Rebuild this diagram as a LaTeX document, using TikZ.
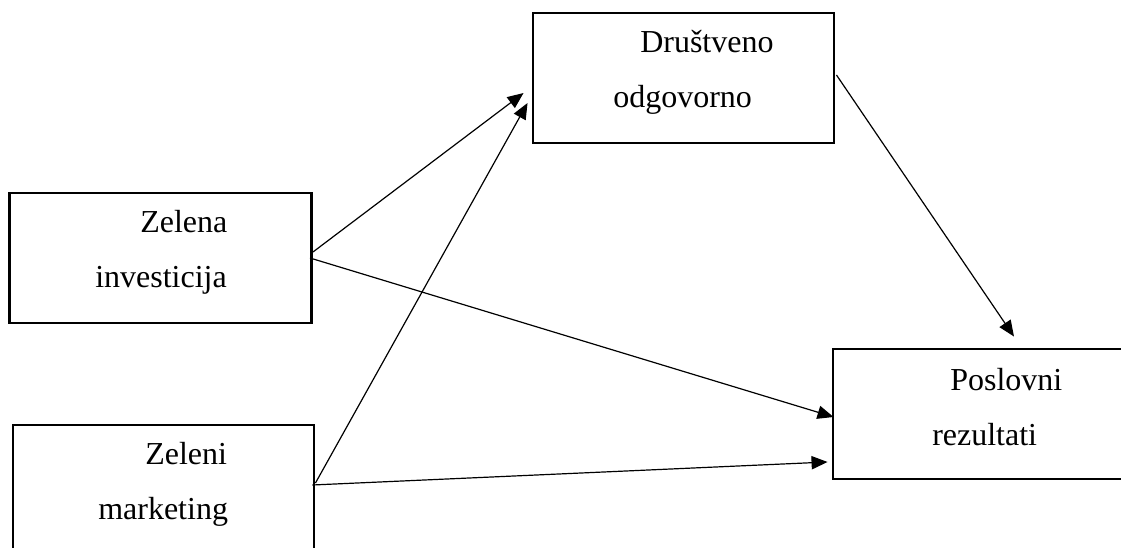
\documentclass[tikz,border=0pt]{standalone}
\usepackage{fontspec}
\setmainfont{Liberation Serif}
\usetikzlibrary{arrows.meta,calc}
\begin{document}
\begin{tikzpicture}[x=0.75pt,y=-0.75pt,
  box/.style={draw=black,line width=2.2pt,fill=none,inner sep=0pt},
  lbl/.style={anchor=base west,inner sep=0pt,font=\fontsize{24}{28}\selectfont},
  conn/.style={line width=0.9pt,-{Triangle[length=12pt,width=10pt]}}]
\useasboundingbox (0,0) rectangle (1121,548);
\clip (0,0) rectangle (1121,548);
% boxes
\node[box,minimum width=226.5pt,minimum height=97.5pt] (zi) at (160.5,258) {};
\node[box,minimum width=225.75pt,minimum height=120pt] (zm) at (163.5,505) {};
\node[box,minimum width=225.75pt,minimum height=97.5pt] (dr) at (683.5,78) {};
\node[box,minimum width=240pt,minimum height=97.5pt] (pr) at (993,414) {};
% labels
\node[lbl] (t1) at (140,233) {Zelena};
\node[lbl] (t2) at (95,288) {investicija};
\node[lbl] (t3) at (145,465) {Zeleni};
\node[lbl] (t4) at (98,520) {marketing};
\node[lbl] (t5) at (640,53) {Društveno};
\node[lbl] (t6) at (613,108) {odgovorno};
\node[lbl] (t7) at (950,391) {Poslovni};
\node[lbl] (t8) at (932,446) {rezultati};
% connector endpoints
\coordinate (a1) at ($(zi.east)+(0,-6)$);
\coordinate (a2) at ($(zi.east)+(-3,0)$);
\coordinate (b1) at ($(zm.east)+(0,-22)$);
\coordinate (b2) at ($(zm.east)+(-3,-20)$);
\coordinate (c1) at ($(dr.east)+(1,-3)$);
\coordinate (d1) at ($(dr.west)+(-8,15)$);
\coordinate (d2) at ($(dr.west)+(-4,25)$);
\coordinate (e1) at ($(pr.west)+(2,3)$);
\coordinate (e2) at ($(pr.west)+(-4,48)$);
\coordinate (e3) at ($(pr.north)+(21,-11)$);
\draw[conn] (a1) -- (d1);
\draw[conn] (a2) -- (e1);
\draw[conn] (b1) -- (d2);
\draw[conn] (b2) -- (e2);
\draw[conn] (c1) -- (e3);
\end{tikzpicture}
\end{document}
